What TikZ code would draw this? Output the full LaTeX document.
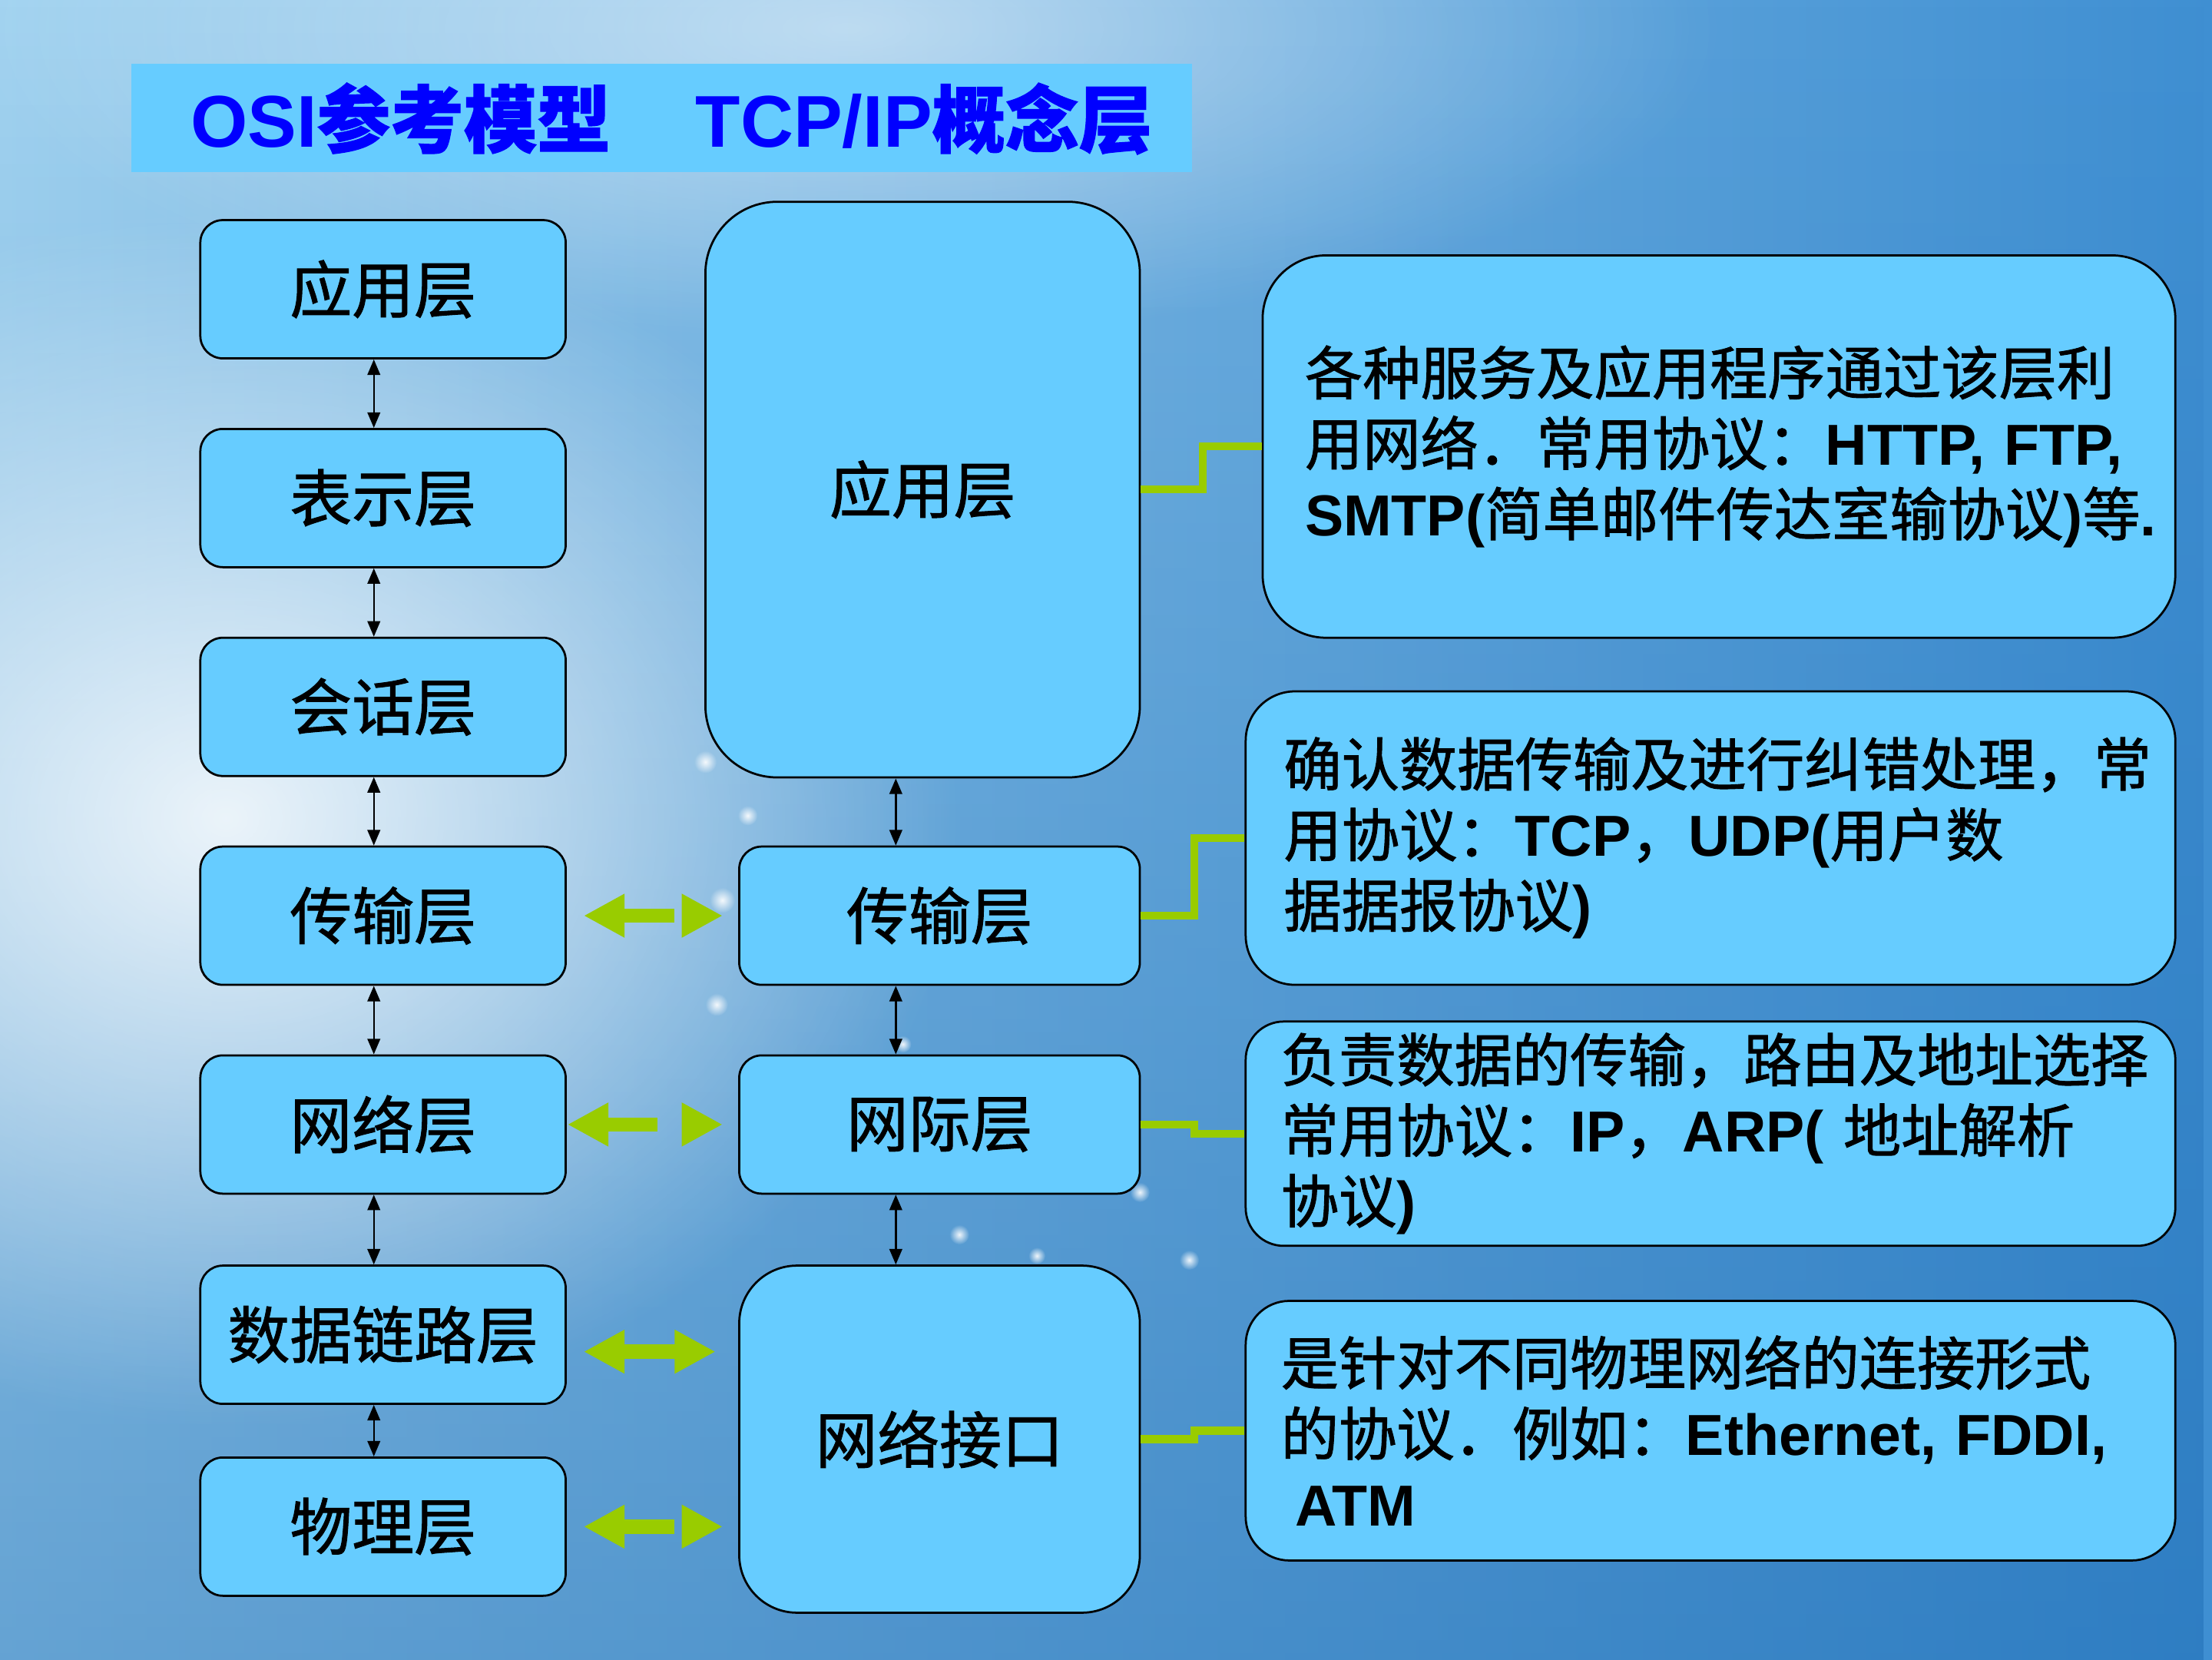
\documentclass[tikz,border=0pt]{standalone}
\usepackage{fontspec}
\setmainfont{Noto Sans CJK SC}[FakeBold=1.2]
\newfontfamily\latinfont{Liberation Sans}
\usetikzlibrary{arrows.meta,fadings}

\definecolor{boxfill}{HTML}{66CCFF}
\definecolor{lime}{HTML}{99CC00}
\definecolor{titleblue}{HTML}{0000FF}
\definecolor{bgL}{HTML}{A2D3F0}
\definecolor{bgR}{HTML}{3F8FD2}
\definecolor{bgDark}{HTML}{1A68B0}

\newcommand\en[1]{{\latinfont\bfseries #1}}

\tikzfading[name=glowfade, inner color=transparent!0, outer color=transparent!100]
\tikzfading[name=downfade, top color=transparent!100, bottom color=transparent!0]

\begin{document}
\begin{tikzpicture}[x=1pt,y=-1pt,
  layer/.style={draw=black, line width=1.5pt, fill=boxfill, rounded corners=16pt,
    inner sep=0pt, font=\fontsize{44}{50}\selectfont},
  osibox/.style={layer, minimum width=259pt, minimum height=98pt},
  tcpbox/.style={layer, minimum width=284pt, minimum height=98pt},
  descbox/.style={draw=black, line width=1.5pt, fill=boxfill, align=left,
    inner ysep=0pt, font=\fontsize{41}{50}\selectfont},
  vlink/.style={line width=1.3pt, {Triangle[length=11pt,width=9pt]}-{Triangle[length=11pt,width=9pt]}},
  garrow/.style={draw=lime, line width=10pt, {Triangle[length=29pt,width=29pt]}-{Triangle[length=29pt,width=29pt]}},
  gleft/.style={draw=lime, line width=10pt, {Triangle[length=29pt,width=29pt]}-},
  gright/.style={draw=lime, line width=10pt, -{Triangle[length=29pt,width=29pt]}},
  gconn/.style={draw=lime, line width=5.5pt},
  bubble/.style={fill=white, path fading=glowfade, fill opacity=0.9},
]
\useasboundingbox (0,0) rectangle (1568,1176);

% background
\shade[left color=bgL, right color=bgR] (0,0) rectangle (1568,1176);
\fill[bgDark, path fading=downfade, fill opacity=0.45] (0,0) rectangle (1568,1176);
\fill[white, path fading=glowfade, fill opacity=0.85] (160,580) ellipse [x radius=520, y radius=430];
\fill[white, path fading=glowfade, fill opacity=0.5] (600,20) ellipse [x radius=620, y radius=220];

% bubbles
\foreach \bx/\by/\br in {500/540/8, 530/578/7, 512/638/9, 508/712/8, 640/740/6, 680/875/7, 735/890/6, 808/845/7, 843/893/7}
  \fill[bubble] (\bx,\by) circle (\br);

% title
\node[fill=boxfill, minimum width=752pt, minimum height=77pt, inner sep=0pt] (band) at (469,83.5) {};
\node[anchor=base west, inner sep=0pt, text=titleblue, font=\fontsize{52}{60}\selectfont\bfseries] (ttl1) at (135,104) {\en{OSI}参考模型};
\node[anchor=base west, inner sep=0pt, text=titleblue, font=\fontsize{52}{60}\selectfont\bfseries] (ttl2) at (493,104) {\en{TCP/IP}概念层};

% OSI column
\node[osibox] (o1) at (271.5,205) {应用层};
\node[osibox] (o2) at (271.5,353) {表示层};
\node[osibox] (o3) at (271.5,501) {会话层};
\node[osibox] (o4) at (271.5,649) {传输层};
\node[osibox] (o5) at (271.5,797) {网络层};
\node[osibox] (o6) at (271.5,946) {数据链路层};
\node[osibox] (o7) at (271.5,1082) {物理层};

% TCP/IP column
\node[layer, rounded corners=51pt, minimum width=308pt, minimum height=408pt] (app) at (654,347) {应用层};
\node[tcpbox] (t4) at (666,649) {传输层};
\node[tcpbox] (t5) at (666,797) {网际层};
\node[layer, rounded corners=41pt, minimum width=284pt, minimum height=246pt] (t6) at (666,1020) {网络接口};

% description boxes
\node[descbox, rounded corners=45pt, minimum height=271pt, inner xsep=30pt, text width=587pt] (r1) at (1218.5,316.5)
  {各种服务及应用程序通过该层利\\用网络．常用协议：\en{HTTP,~FTP,}\\\en{SMTP(}简单邮件传达室输协议\en{)}等\en{.}};
\node[descbox, rounded corners=35pt, minimum height=208pt, inner xsep=27pt, text width=605pt] (r2) at (1212.5,594)
  {确认数据传输及进行纠错处理，常\\用协议：\en{TCP}，\en{UDP(}用户数\\据据报协议\en{)}};
\node[descbox, rounded corners=27pt, minimum height=159pt, inner xsep=25pt, text width=609pt] (r3) at (1212.5,803.5)
  {负责数据的传输，路由及地址选择\\常用协议：\en{IP}，\en{ARP(~}地址解析\\协议\en{)}};
\node[descbox, rounded corners=31pt, minimum height=184pt, inner xsep=25pt, text width=609pt] (r4) at (1212.5,1014)
  {是针对不同物理网络的连接形式\\的协议．例如：\en{Ethernet,~FDDI,}\\\hspace*{10pt}\en{ATM}};

% vertical black links
\coordinate (lx) at (265,0);
\coordinate (mx) at (635,0);
\draw[vlink] (o1.south -| lx) -- (o2.north -| lx);
\draw[vlink] (o2.south -| lx) -- (o3.north -| lx);
\draw[vlink] (o3.south -| lx) -- (o4.north -| lx);
\draw[vlink] (o4.south -| lx) -- (o5.north -| lx);
\draw[vlink] (o5.south -| lx) -- (o6.north -| lx);
\draw[vlink] (o6.south -| lx) -- (o7.north -| lx);
\draw[vlink] (app.south -| mx) -- (t4.north -| mx);
\draw[vlink] (t4.south -| mx) -- (t5.north -| mx);
\draw[vlink] (t5.south -| mx) -- (t6.north -| mx);

% green double arrows between the columns
\draw[gleft] ([xshift=12pt]o4.east) -- ([xshift=-45pt]t4.west);
\draw[gright] ([xshift=-40pt]t4.west) -- ([xshift=-11pt]t4.west);

\draw[gleft] ([xshift=0.5pt]o5.east) -- ([xshift=-57pt]t5.west);
\draw[gright] ([xshift=-40pt]t5.west) -- ([xshift=-11pt]t5.west);

\coordinate (g6) at ([yshift=-12pt]o6.east);
\path (g6 -| t6.west) coordinate (g6r);
\draw[garrow] ([xshift=12pt]g6) -- ([xshift=-16pt]g6r);

\path (o7.east -| t6.west) coordinate (g7r);
\draw[gleft] ([xshift=12pt]o7.east) -- ([xshift=-45pt]g7r);
\draw[gright] ([xshift=-40pt]g7r) -- ([xshift=-11pt]g7r);

% green step connectors to descriptions
\draw[gconn] (app.east) -- ++(44,0) |- (r1.west);
\draw[gconn] (t4.east) -- ++(38,0) |- (r2.west);
\draw[gconn] (t5.east) -- ++(38,0) |- (r3.west);
\draw[gconn] (t6.east) -- ++(38,0) |- (r4.west);
\end{tikzpicture}
\end{document}
